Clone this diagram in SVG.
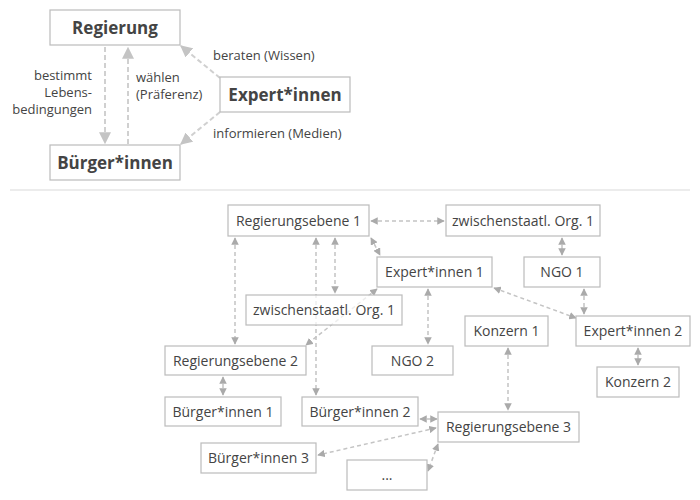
<svg xmlns="http://www.w3.org/2000/svg" width="700" height="500" viewBox="0 0 700 500">
<style>
rect{fill:#fff;stroke:#bbb;stroke-width:1.2}
text{font-family:"Open Sans","Noto Sans",sans-serif;fill:#444;text-anchor:middle}
.b{font-size:17px;font-weight:bold}
.n{font-size:14px}
.l{font-size:13px}
.e{text-anchor:end}
.s{text-anchor:start}
.c line{stroke:#c4c4c4;stroke-width:1.5;stroke-dasharray:4,3}
.t line{stroke:#d0d0d0;stroke-width:2;stroke-dasharray:5,3}
</style>
<defs>
<marker id="a" viewBox="0 0 10 10" refX="9" refY="5" markerWidth="5" markerHeight="5" orient="auto-start-reverse"><path d="M0,0L10,5L0,10z" fill="#aaa"/></marker>
<marker id="A" viewBox="0 0 10 10" refX="9" refY="5" markerWidth="6" markerHeight="6" orient="auto"><path d="M0,0L10,5L0,10z" fill="#c4c4c4"/></marker>
</defs>
<line x1="10" y1="190" x2="690" y2="190" stroke="#e6e6e6" stroke-width="1.5"/>
<g class="t" id="top-connectors">
<line x1="105" y1="47" x2="105" y2="143" marker-end="url(#A)"/>
<line x1="128" y1="144" x2="128" y2="48" marker-end="url(#A)"/>
<line x1="220" y1="78" x2="181" y2="46" marker-end="url(#A)"/>
<line x1="220" y1="112" x2="181" y2="144" marker-end="url(#A)"/>
<text class="l e" x="92" y="80">bestimmt</text>
<text class="l e" x="92" y="97">Lebens-</text>
<text class="l e" x="92" y="114">bedingungen</text>
<text class="l s" x="136" y="82">wählen</text>
<text class="l s" x="136" y="99">(Präferenz)</text>
<text class="l s" x="213" y="60">beraten (Wissen)</text>
<text class="l s" x="213" y="138">informieren (Medien)</text>
</g>
<g id="regierung"><rect x="50" y="10" width="130" height="35"/><text class="b" x="115" y="34">Regierung</text></g>
<g id="buerger"><rect x="50" y="145" width="130" height="35"/><text class="b" x="115" y="169">Bürger*innen</text></g>
<g id="expert"><rect x="220" y="77" width="130" height="35"/><text class="b" x="285" y="101">Expert*innen</text></g>
<g class="c" id="connectors">
<line x1="371" y1="221" x2="444" y2="221" marker-start="url(#a)" marker-end="url(#a)"/>
<line x1="562" y1="238" x2="562" y2="255" marker-start="url(#a)" marker-end="url(#a)"/>
<line x1="584" y1="289" x2="584" y2="314" marker-start="url(#a)" marker-end="url(#a)"/>
<line x1="494" y1="288" x2="576" y2="318" marker-start="url(#a)" marker-end="url(#a)"/>
<line x1="638" y1="348" x2="638" y2="365" marker-start="url(#a)" marker-end="url(#a)"/>
<line x1="371" y1="238" x2="380" y2="255" marker-start="url(#a)" marker-end="url(#a)"/>
<line x1="235" y1="238" x2="235" y2="344" marker-start="url(#a)" marker-end="url(#a)"/>
<line x1="335" y1="238" x2="335" y2="293" marker-start="url(#a)" marker-end="url(#a)"/>
<line x1="316" y1="238" x2="316" y2="395" marker-start="url(#a)" marker-end="url(#a)"/>
<line x1="377" y1="289" x2="306" y2="345" marker-start="url(#a)" marker-end="url(#a)"/>
<line x1="428" y1="289" x2="428" y2="344" marker-start="url(#a)" marker-end="url(#a)"/>
<line x1="223" y1="377" x2="223" y2="395" marker-start="url(#a)" marker-end="url(#a)"/>
<line x1="508" y1="348" x2="508" y2="410" marker-start="url(#a)" marker-end="url(#a)"/>
<line x1="420" y1="419" x2="437" y2="419" marker-start="url(#a)" marker-end="url(#a)"/>
<line x1="436" y1="428" x2="318" y2="455" marker-start="url(#a)" marker-end="url(#a)"/>
<line x1="438" y1="444" x2="428" y2="471" marker-start="url(#a)" marker-end="url(#a)"/>
</g>
<g id="r1"><rect x="228" y="205" width="141" height="31"/><text class="n" x="298.5" y="226">Regierungsebene 1</text></g>
<g id="z1"><rect x="446" y="205" width="154" height="31"/><text class="n" x="523" y="226">zwischenstaatl. Org. 1</text></g>
<g id="e1"><rect x="377" y="257" width="115" height="30"/><text class="n" x="434.5" y="277">Expert*innen 1</text></g>
<g id="ngo1"><rect x="524" y="257" width="76" height="30"/><text class="n" x="562" y="277">NGO 1</text></g>
<g id="z2"><rect x="246" y="295" width="156" height="30" style="fill-opacity:0.7"/><text class="n" x="324" y="315">zwischenstaatl. Org. 1</text></g>
<g id="k1"><rect x="465" y="316" width="83" height="30"/><text class="n" x="506.5" y="336">Konzern 1</text></g>
<g id="e2"><rect x="576" y="316" width="114" height="30"/><text class="n" x="633" y="336">Expert*innen 2</text></g>
<g id="r2"><rect x="165" y="346" width="141" height="29"/><text class="n" x="235.5" y="366">Regierungsebene 2</text></g>
<g id="ngo2"><rect x="372" y="346" width="81" height="29"/><text class="n" x="412.5" y="366">NGO 2</text></g>
<g id="k2"><rect x="597" y="367" width="82" height="30"/><text class="n" x="638" y="387">Konzern 2</text></g>
<g id="b1"><rect x="165" y="397" width="116" height="29"/><text class="n" x="223" y="417">Bürger*innen 1</text></g>
<g id="b2"><rect x="302" y="397" width="116" height="29"/><text class="n" x="360" y="417">Bürger*innen 2</text></g>
<g id="r3"><rect x="438" y="412" width="141" height="30"/><text class="n" x="508.5" y="432">Regierungsebene 3</text></g>
<g id="b3"><rect x="201" y="443" width="115" height="30"/><text class="n" x="258.5" y="463">Bürger*innen 3</text></g>
<g id="more"><rect x="347" y="460" width="80" height="30"/><text class="n" x="387" y="480">...</text></g>
</svg>
